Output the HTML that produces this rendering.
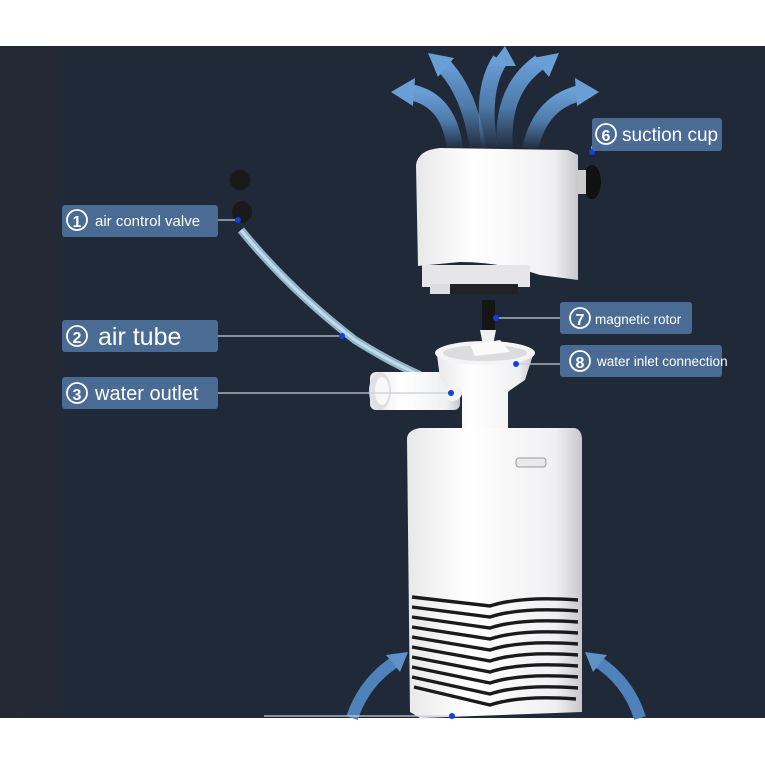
<!DOCTYPE html>
<html><head><meta charset="utf-8"><style>
html,body{margin:0;padding:0;background:#fff;}
svg{display:block}
text{font-family:"Liberation Sans","DejaVu Sans",sans-serif;fill:#fff}
</style></head><body>
<svg width="765" height="765" viewBox="0 0 765 765" xmlns="http://www.w3.org/2000/svg">
<defs>
<linearGradient id="bg" x1="0" y1="0" x2="1" y2="0">
<stop offset="0" stop-color="#252933"/><stop offset="0.06" stop-color="#242a35"/><stop offset="0.1" stop-color="#1f2938"/><stop offset="1" stop-color="#202937"/>
</linearGradient>
<linearGradient id="ar" x1="0" y1="1" x2="0" y2="0">
<stop offset="0" stop-color="#5a8fc8" stop-opacity="0"/><stop offset="0.5" stop-color="#5a8fc8" stop-opacity="0.8"/><stop offset="1" stop-color="#6a9fd6"/>
</linearGradient>
<linearGradient id="wb" x1="0" y1="0" x2="1" y2="0">
<stop offset="0" stop-color="#e8e8ea"/><stop offset="0.35" stop-color="#ffffff"/><stop offset="0.85" stop-color="#f0f0f2"/><stop offset="1" stop-color="#c8c8cc"/>
</linearGradient>
</defs>
<rect x="0" y="0" width="765" height="765" fill="#fff"/>
<rect x="0" y="46" width="765" height="672" fill="url(#bg)"/>

<!-- top arrows -->
<g fill="none" stroke="url(#ar)" stroke-width="16">
<path d="M455 150 Q450 100 410 92"/>
<path d="M530 150 Q540 100 585 92"/>
<path d="M478 150 Q470 90 440 62"/>
<path d="M505 150 Q500 90 540 62"/>
<path d="M490 150 Q480 90 500 60"/>
</g>
<g fill="#6a9fd6">
<polygon points="391,92 415,78 413,106"/>
<polygon points="599,92 575,78 577,106"/>
<polygon points="428,53 454,58 438,77"/>
<polygon points="559,53 533,58 549,77"/>
<polygon points="505,46 490,66 516,66"/>
</g>

<!-- bottom arrows -->
<path d="M352 718 Q365 680 398 660" fill="none" stroke="#4f82ba" stroke-width="12"/>
<polygon points="408,652 386,655 400,672" fill="#5f92c8"/>
<path d="M640 718 Q628 680 595 660" fill="none" stroke="#4f82ba" stroke-width="12"/>
<polygon points="585,652 607,655 593,672" fill="#5f92c8"/>

<!-- top head -->
<path d="M416 165 Q418 150 440 148 L568 150 L578 155 L578 280 L540 275 Q500 262 460 262 L418 266 Z" fill="url(#wb)"/>
<rect x="422" y="265" width="108" height="22" fill="#e6e6e8"/>
<rect x="440" y="284" width="78" height="10" fill="#222"/>
<rect x="430" y="284" width="20" height="10" fill="#ddd"/>
<ellipse cx="592" cy="182" rx="9" ry="17" fill="#111"/>
<rect x="578" y="170" width="8" height="24" fill="#ccc"/>

<!-- rotor -->
<rect x="482" y="300" width="13" height="30" fill="#151515"/>
<polygon points="480,330 496,330 492,350 484,350" fill="#f0f0f0"/>

<!-- tube -->
<path d="M241 230 Q290 290 355 340 Q390 362 420 375" fill="none" stroke="#8fb6cc" stroke-width="8"/>
<path d="M241 230 Q290 290 355 340 Q390 362 420 375" fill="none" stroke="#c4dbe6" stroke-width="3"/>
<ellipse cx="242" cy="212" rx="10" ry="11" fill="#1a1a1a"/>
<ellipse cx="240" cy="180" rx="10" ry="10" fill="#1a1a1a"/>

<!-- cup & outlet -->
<rect x="370" y="372" width="90" height="38" rx="6" fill="url(#wb)"/>
<ellipse cx="380" cy="391" rx="11" ry="19" fill="#e0e0e2"/>
<ellipse cx="382" cy="391" rx="7" ry="14" fill="#f8f8f8"/>
<path d="M437 355 L533 355 L525 380 Q510 390 508 392 L508 428 L462 428 L462 392 Q445 385 440 378 Z" fill="url(#wb)"/>
<ellipse cx="485" cy="353" rx="50" ry="12" fill="#f4f4f4"/>
<ellipse cx="485" cy="353" rx="42" ry="8" fill="#dcdcde"/>
<polygon points="470,345 500,340 510,352 475,356" fill="#fafafa"/>
<ellipse cx="452" cy="393" rx="10" ry="8" fill="#f2f2f2"/>

<!-- body -->
<path d="M407 438 Q408 430 420 428 L575 428 Q582 430 582 440 L582 712 L420 718 L410 712 Z" fill="url(#wb)"/>
<rect x="516" y="458" width="30" height="9" rx="3" fill="#eaeaea" stroke="#999" stroke-width="1"/>
<g stroke="#1a1a1a" stroke-width="3.4" fill="none">
<path d="M412 597 L490 606 Q520 596 578 600"/>
<path d="M412 607 L490 617 Q520 607 578 611"/>
<path d="M412 617 L490 628 Q520 618 578 622"/>
<path d="M412 627 L490 639 Q520 629 578 633"/>
<path d="M412 637 L490 650 Q520 640 578 644"/>
<path d="M412 647 L490 661 Q520 651 578 655"/>
<path d="M412 657 L490 672 Q520 662 578 666"/>
<path d="M412 667 L490 683 Q520 673 578 677"/>
<path d="M412 677 L490 694 Q520 684 578 688"/>
<path d="M414 687 L490 705 Q520 695 576 699"/>
</g>

<!-- leader lines -->
<g stroke="#c9ced6" stroke-width="1.2">
<line x1="218" y1="220" x2="238" y2="220"/>
<line x1="218" y1="336" x2="342" y2="336"/>
<line x1="218" y1="393" x2="451" y2="393"/>
<line x1="592" y1="146" x2="592" y2="151"/>
<line x1="496" y1="318" x2="560" y2="318"/>
<line x1="516" y1="364" x2="560" y2="364"/>
<line x1="264" y1="716" x2="452" y2="716"/>
</g>
<g fill="#1040e0">
<circle cx="238" cy="220" r="3"/><circle cx="342" cy="336" r="3"/><circle cx="451" cy="393" r="3"/>
<circle cx="592" cy="152" r="3"/><circle cx="496" cy="318" r="3"/><circle cx="516" cy="364" r="3"/><circle cx="452" cy="716" r="3"/>
</g>

<!-- labels -->
<g fill="#4a6b94">
<rect x="62" y="205" width="156" height="32" rx="3"/>
<rect x="62" y="320" width="156" height="32" rx="3"/>
<rect x="62" y="377" width="156" height="32" rx="3"/>
<rect x="592" y="118" width="130" height="33" rx="3"/>
<rect x="560" y="302" width="132" height="32" rx="3"/>
<rect x="560" y="345" width="162" height="32" rx="3"/>
</g>
<g fill="none" stroke="#fff" stroke-width="1.8">
<circle cx="77" cy="220" r="10"/><circle cx="77" cy="336" r="10"/><circle cx="77" cy="393" r="10"/>
<circle cx="606" cy="134" r="10"/><circle cx="580" cy="318" r="10"/><circle cx="580" cy="361" r="10"/>
</g>
<g font-weight="bold" text-anchor="middle">
<text x="77" y="227" font-size="16">1</text>
<text x="77" y="343" font-size="16">2</text>
<text x="77" y="400" font-size="16">3</text>
<text x="606" y="141" font-size="16">6</text>
<text x="580" y="325" font-size="16">7</text>
<text x="580" y="368" font-size="16">8</text>
</g>
<text x="95" y="226" font-size="15">air control valve</text>
<text x="98" y="345" font-size="25">air tube</text>
<text x="95" y="400" font-size="20">water outlet</text>
<text x="622" y="141" font-size="19">suction cup</text>
<text x="595" y="324" font-size="13.5">magnetic rotor</text>
<text x="597" y="366" font-size="13.5">water inlet connection</text>
</svg>
</body></html>
